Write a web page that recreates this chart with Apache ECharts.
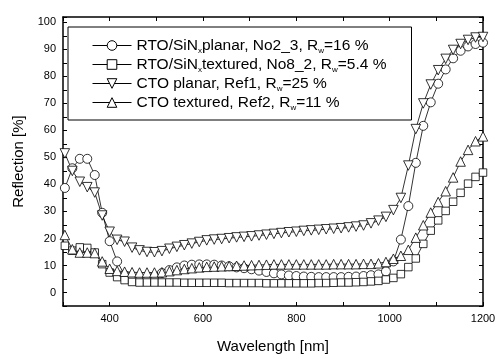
<!DOCTYPE html>
<html>
<head>
<meta charset="utf-8">
<script src="https://cdn.jsdelivr.net/npm/echarts@6/dist/echarts.min.js"></script>
<style>
html,body{margin:0;padding:0;background:#fff;}
#c{width:502px;height:359px;}
</style>
</head>
<body>
<div id="c"></div>
<script>
const wavelength = [304, 320, 336, 352, 368, 384, 400, 416, 432, 448, 464, 480, 496, 512, 528, 544, 560, 576, 592, 608, 624, 640, 656, 672, 688, 704, 720, 736, 752, 768, 784, 800, 816, 832, 848, 864, 880, 896, 912, 928, 944, 960, 976, 992, 1008, 1024, 1040, 1056, 1072, 1088, 1104, 1120, 1136, 1152, 1168, 1184, 1200];

const rtoPlanar = [38.7, 46, 49.5, 49.5, 43.5, 29.5, 19, 11.5, 6.5, 5, 4.6, 5, 6, 7.2, 8.3, 9.3, 10, 10.3, 10.4, 10.4, 10.3, 10, 9.7, 9.3, 9, 8.6, 8.1, 7.6, 7.1, 6.7, 6.3, 6.1, 5.9, 5.8, 5.7, 5.7, 5.7, 5.7, 5.8, 5.9, 6.1, 6.4, 6.7, 7.8, 11.5, 19.6, 32, 48, 61.7, 70.4, 77.3, 82.6, 86.7, 89.5, 91.1, 92, 92.5];

const rtoTextured = [17.3, 15.5, 16.7, 16.5, 14.8, 10.5, 7.4, 5.7, 4.6, 3.9, 3.7, 3.7, 3.7, 3.7, 3.7, 3.7, 3.6, 3.6, 3.6, 3.6, 3.6, 3.6, 3.5, 3.5, 3.5, 3.5, 3.5, 3.4, 3.4, 3.4, 3.4, 3.4, 3.4, 3.4, 3.5, 3.5, 3.6, 3.7, 3.7, 3.8, 3.9, 4.1, 4.3, 4.8, 5.4, 6.8, 9.4, 12.6, 18, 22.9, 26.7, 30.2, 33.6, 36.9, 40.3, 42.8, 44.4];

const ctoPlanar = [51.5, 45, 41, 39, 37, 28.5, 22.5, 19.5, 18.8, 16.6, 15.6, 15, 14.9, 15.3, 16.2, 16.9, 17.5, 18.1, 18.7, 19.3, 19.6, 19.8, 20.1, 20.4, 20.6, 20.8, 21.1, 21.4, 21.7, 22, 22.3, 22.5, 22.8, 23, 23.2, 23.4, 23.6, 23.8, 24.1, 24.4, 24.8, 25.6, 26.6, 28, 30.5, 35, 47, 60.5, 70, 77, 82.3, 86.5, 89.8, 92, 93.5, 94.4, 94.6];

const ctoTextured = [21.3, 16, 14.8, 14.8, 14.6, 11.5, 8.8, 8, 7.7, 7.5, 7.4, 7.4, 7.4, 7.5, 7.9, 8.3, 8.7, 9, 9.3, 9.5, 9.6, 9.7, 9.8, 9.9, 10, 10.1, 10.2, 10.3, 10.4, 10.4, 10.4, 10.4, 10.4, 10.4, 10.4, 10.4, 10.5, 10.5, 10.5, 10.5, 10.6, 10.6, 10.8, 11.3, 12.5, 13.6, 15.8, 20.3, 24.9, 29.6, 33.5, 37.5, 42.6, 48.5, 52.8, 56, 57.8];

const seriesNames = ['RTO/SiNx planar, No2_3, Rw=16 %', 'RTO/SiNx textured, No8_2, Rw=5.4 %', 'CTO planar, Ref1, Rw=25 %', 'CTO textured, Ref2, Rw=11 %'];
const legendLabels = ['RTO/SiN{s|x}planar, No2_3, R{s|w}=16 %', 'RTO/SiN{s|x}textured, No8_2, R{s|w}=5.4 %', 'CTO planar, Ref1, R{s|w}=25 %', 'CTO textured, Ref2, R{s|w}=11 %'];
const seriesValues = [rtoPlanar, rtoTextured, ctoPlanar, ctoTextured];
const seriesSymbols = ['circle', 'rect', 'triangle', 'triangle'];
const symbolSizes = [9, 7.5, 9.5, 9.5];
const symbolRotations = [0, 0, 180, 0];

const xLabelTicks = [400, 600, 800, 1000, 1200];
const yLabelTicks = [0, 10, 20, 30, 40, 50, 60, 70, 80, 90, 100];

const FONT = 'Liberation Sans, Arial, sans-serif';
const chart = echarts.init(document.getElementById('c'), null, {renderer: 'canvas'});

function axisCommon() {
  return {
    axisLine: {show: true, onZero: false, lineStyle: {color: '#000', width: 1.5}},
    axisTick: {show: true, inside: true, length: 4, lineStyle: {color: '#000', width: 1}},
    splitLine: {show: false}
  };
}

const option = {
  animation: false,
  backgroundColor: '#fff',
  grid: {left: 63, right: 19, top: 17, bottom: 44, containLabel: false},
  xAxis: [
    Object.assign(axisCommon(), {
      type: 'value', position: 'bottom', min: 300, max: 1200, interval: 100,
      name: 'Wavelength [nm]', nameLocation: 'middle', nameGap: 33,
      nameTextStyle: {fontFamily: FONT, fontSize: 15, color: '#000'},
      axisLabel: {show: true, margin: 7, fontFamily: FONT, fontSize: 11, color: '#000',
        formatter: function (v) { return xLabelTicks.indexOf(v) >= 0 ? String(v) : ''; }}
    }),
    Object.assign(axisCommon(), {
      type: 'value', position: 'top', min: 300, max: 1200, interval: 100,
      axisLabel: {show: false}
    })
  ],
  yAxis: [
    Object.assign(axisCommon(), {
      type: 'value', position: 'left', min: -5, max: 102, interval: 5,
      name: 'Reflection [%]', nameLocation: 'middle', nameGap: 36, nameRotate: 90,
      nameTextStyle: {fontFamily: FONT, fontSize: 15, color: '#000'},
      axisLabel: {show: true, margin: 7, fontFamily: FONT, fontSize: 11, color: '#000',
        formatter: function (v) { return yLabelTicks.indexOf(v) >= 0 ? String(v) : ''; }}
    }),
    Object.assign(axisCommon(), {
      type: 'value', position: 'right', min: -5, max: 102, interval: 5,
      axisLabel: {show: false}
    })
  ],
  legend: {
    orient: 'vertical', left: 68, top: 27,
    padding: [9, 25, 8, 24], itemGap: 0, itemWidth: 39, itemHeight: 12,
    borderColor: '#000', borderWidth: 1, backgroundColor: '#fff',
    data: seriesNames,
    formatter: function (name) { return legendLabels[seriesNames.indexOf(name)]; },
    itemStyle: {color: '#fff', borderColor: '#000', borderWidth: 1},
    lineStyle: {color: '#000', width: 1},
    textStyle: {fontFamily: FONT, fontSize: 15.5, color: '#000', lineHeight: 19,
      rich: {s: {fontFamily: FONT, fontSize: 8, color: '#000', lineHeight: 6, verticalAlign: 'bottom'}}}
  },
  series: seriesNames.map(function (name, i) {
    return {
      name: name, type: 'line', xAxisIndex: 0, yAxisIndex: 0,
      data: wavelength.map(function (w, k) { return [w, seriesValues[i][k]]; }),
      symbol: seriesSymbols[i], symbolSize: symbolSizes[i], symbolRotate: symbolRotations[i],
      showAllSymbol: true,
      lineStyle: {color: '#000', width: 0.8},
      itemStyle: {color: '#fff', borderColor: '#000', borderWidth: 0.8}
    };
  })
};
chart.setOption(option);
</script>
</body>
</html>
